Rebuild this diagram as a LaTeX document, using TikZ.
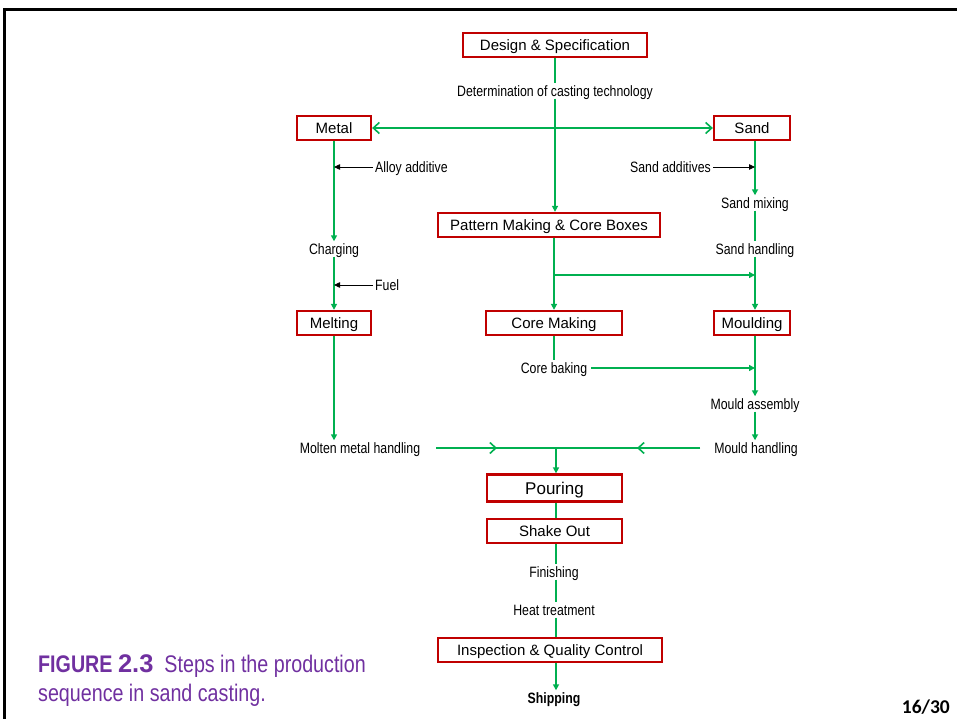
\documentclass[tikz,border=0pt]{standalone}
\usepackage{fontspec}
\setmainfont{Liberation Sans}
\newfontfamily\narrowfont[FakeStretch=0.82]{Liberation Sans}
\newfontfamily\pagefont{Carlito}
\usetikzlibrary{arrows.meta}
\definecolor{flowgreen}{RGB}{0,176,80}
\definecolor{boxred}{RGB}{192,0,0}
\definecolor{capviolet}{RGB}{112,48,160}
\tikzset{>={Triangle[length=6pt,width=6pt]}}
\tikzset{
  stage/.style={draw=boxred, line width=2.3pt, minimum height=24pt, inner sep=0pt,
    text height=11pt, text depth=0pt, font=\fontsize{15}{18}\selectfont},
  substage/.style={inner sep=2pt, text height=11pt, text depth=0pt,
    font=\narrowfont\fontsize{15}{18}\selectfont},
  flow/.style={draw=flowgreen, line width=1.6pt},
  feed/.style={draw=black, line width=0.8pt, -{Triangle[length=6pt,width=5.5pt]}},
  barb/.style={-{Straight Barb[length=6pt,width=11pt]}},
  bibarb/.style={{Straight Barb[length=6pt,width=11pt]}-{Straight Barb[length=6pt,width=11pt]}}
}

\begin{document}
\begin{tikzpicture}[x=1pt, y=-1pt]
        \useasboundingbox (0, 0) rectangle (957, 719);
        \draw[line width=3pt] (4, 719) -- (4, 9.5) -- (957, 9.5);
        % boxes
        \node[stage, minimum width=184pt] (design) at (555, 45) {Design \& Specification};
        \node[stage, minimum width=74pt] (metal) at (334, 128) {Metal};
        \node[stage, minimum width=76pt] (sand) at (752, 128) {Sand};
        \node[stage, minimum width=222pt] (pattern) at (549, 225) {Pattern Making \& Core Boxes};
        \node[stage, minimum width=74pt] (melting) at (334, 323) {Melting};
        \node[stage, minimum width=136pt] (coremaking) at (554, 323) {Core Making};
        \node[stage, minimum width=76pt] (moulding) at (752, 323) {Moulding};
        \node[stage, minimum width=135pt, minimum height=27pt, text height=12.5pt, font=\fontsize{17}{20}\selectfont] (pouring) at (554.5, 488) {Pouring};
        \node[stage, minimum width=135pt] (shakeout) at (554.5, 531) {Shake Out};
        \node[stage, minimum width=224pt] (inspection) at (550, 650) {Inspection \& Quality Control};
        % steps without box
        \node[substage] (determination) at (555, 91) {Determination of casting technology};
        \node[substage, anchor=west] (alloy) at (373, 167) {Alloy additive};
        \node[substage, anchor=east] (sandadd) at (713, 167) {Sand additives};
        \node[substage] (mixing) at (755, 203) {Sand mixing};
        \node[substage] (sandhandling) at (755, 249) {Sand handling};
        \node[substage] (charging) at (334, 249) {Charging};
        \node[substage, anchor=west] (fuel) at (373, 285) {Fuel};
        \node[substage] (baking) at (554, 368) {Core baking};
        \node[substage] (assembly) at (755, 404) {Mould assembly};
        \node[substage] (molten) at (360, 448) {Molten metal handling};
        \node[substage] (mouldhandling) at (756, 448) {Mould handling};
        \node[substage] (finishing) at (554, 572) {Finishing};
        \node[substage] (heat) at (554, 610) {Heat treatment};
        \node[substage, font=\narrowfont\bfseries\fontsize{15}{18}\selectfont] (shipping) at (554, 698) {Shipping};
        \coordinate (branch) at (554, 275);
        \coordinate (join) at (556, 448);
        \coordinate (leftmid) at (497, 448);
        \coordinate (rightmid) at (637, 448);
        % green flow
        \draw[flow] (design.south -| determination) -- (determination.north);
        \draw[flow, ->] (determination.south) -- (determination |- pattern.north);
        \draw[flow, bibarb] (metal.east) -- (sand.west);
        \draw[flow, ->] (metal.south) -- (charging.north);
        \draw[flow, ->] (charging.south) -- (melting.north);
        \draw[flow, ->] (melting.south) -- (melting.south |- molten.north);
        \draw[flow, ->] (sand.south -| mixing) -- (mixing.north);
        \draw[flow] (mixing.south) -- (sandhandling.north);
        \draw[flow, ->] (sandhandling.south) -- (sandhandling |- moulding.north);
        \draw[flow, ->] (coremaking |- pattern.south) -- (coremaking.north);
        \draw[flow, ->] (branch) -- (branch -| sandhandling);
        \draw[flow] (coremaking.south) -- (baking.north);
        \draw[flow, ->, shorten <=2pt] (baking.east) -- (baking.east -| assembly);
        \draw[flow, ->] (moulding.south -| assembly) -- (assembly.north);
        \draw[flow, ->] (assembly.south) -- (assembly.south |- mouldhandling.north);
        \draw[flow, shorten <=14pt] (molten.east) -- (join);
        \draw[flow, barb, shorten <=14pt] (molten.east) -- (leftmid);
        \draw[flow, shorten <=12pt] (mouldhandling.west) -- (join);
        \draw[flow, barb, shorten <=12pt] (mouldhandling.west) -- (rightmid);
        \draw[flow, ->] (join) -- (join |- pouring.north);
        \draw[flow] (pouring.south -| join) -- (shakeout.north -| join);
        \draw[flow] (shakeout.south -| join) -- (finishing.north -| join);
        \draw[flow] (finishing.south -| join) -- (heat.north -| join);
        \draw[flow] (heat.south -| join) -- (inspection.north -| join);
        \draw[flow, ->] (inspection.south -| join) -- (shipping.north -| join);
        % additives
        \draw[feed] (alloy.west) -- (alloy.west -| metal);
        \draw[feed] (fuel.west) -- (fuel.west -| melting);
        \draw[feed] (sandadd.east) -- (sandadd.east -| mixing);
        % caption and page number
        \node[anchor=base west, inner sep=0pt, text=capviolet, font=\narrowfont\fontsize{24}{29}\selectfont] (caption1) at (38, 672)
          {\textbf{FIGURE} {\normalfont\bfseries\fontsize{25.5}{29}\selectfont 2.3}\hspace{11pt}Steps in the production};
        \node[anchor=base west, inner sep=0pt, text=capviolet, font=\narrowfont\fontsize{24}{29}\selectfont] (caption2) at (38, 701)
          {sequence in sand casting.};
        \node[anchor=base east, inner sep=0pt, font=\pagefont\bfseries\fontsize{19.5}{22}\selectfont] (pagenum) at (950, 713) {16/30};
    \end{tikzpicture}
\end{document}
